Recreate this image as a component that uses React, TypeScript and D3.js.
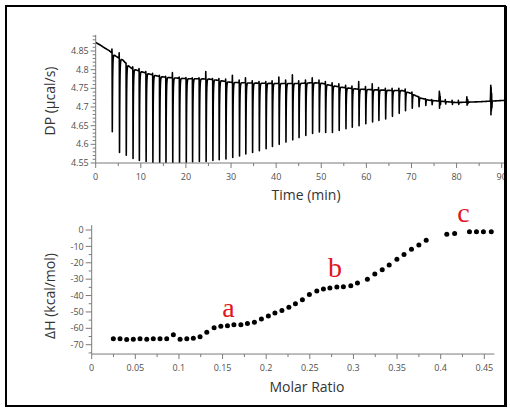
import React from 'react';
import * as d3 from 'd3';

// ---------- Top panel (raw thermogram) ----------
const timeTicks = [0, 10, 20, 30, 40, 50, 60, 70, 80, 90];
const dpTicks = [4.55, 4.6, 4.65, 4.7, 4.75, 4.8, 4.85];
const dpTickLabels = ['4.55', '4.6', '4.65', '4.7', '4.75', '4.8', '4.85'];

const baselineTime = [0, 1, 2, 3, 4, 5, 6, 7, 8, 10, 12, 14, 16, 20, 25, 28, 30, 35, 40, 45, 48, 50, 52, 55, 58, 62, 66, 68, 70, 72, 74, 76, 80, 85, 91];
const baselineDP = [4.873, 4.866, 4.858, 4.851, 4.84, 4.832, 4.826, 4.813, 4.803, 4.795, 4.788, 4.782, 4.779, 4.776, 4.775, 4.77, 4.766, 4.764, 4.763, 4.763, 4.765, 4.764, 4.758, 4.752, 4.748, 4.746, 4.744, 4.744, 4.736, 4.724, 4.718, 4.716, 4.712, 4.714, 4.718];

const injTime = [3.6, 5.2, 6.7, 8.2, 9.6, 11.1, 12.6, 14.1, 15.5, 17.0, 18.5, 20.0, 21.4, 22.9, 24.4, 25.9, 27.3, 28.8, 30.3, 31.8, 33.2, 34.7, 36.2, 37.7, 39.1, 40.6, 42.1, 43.6, 45.0, 46.5, 48.0, 49.5, 50.9, 52.4, 53.9, 55.4, 56.8, 58.3, 59.8, 61.3, 62.7, 64.2, 65.7, 67.2, 68.6, 70.1, 71.6, 73.1, 74.5, 77.5, 79.0, 80.4];
const injMin = [4.634, 4.578, 4.571, 4.562, 4.557, 4.554, 4.551, 4.545, 4.545, 4.545, 4.545, 4.552, 4.553, 4.554, 4.554, 4.557, 4.559, 4.561, 4.565, 4.569, 4.574, 4.578, 4.583, 4.588, 4.594, 4.6, 4.606, 4.612, 4.618, 4.624, 4.629, 4.633, 4.632, 4.632, 4.637, 4.642, 4.646, 4.65, 4.655, 4.66, 4.664, 4.668, 4.675, 4.683, 4.69, 4.697, 4.701, 4.704, 4.706, 4.708, 4.707, 4.707];
const injMax = [4.855, 4.845, 4.818, 4.808, 4.803, 4.795, 4.79, 4.785, 4.782, 4.792, 4.78, 4.779, 4.778, 4.778, 4.795, 4.776, 4.776, 4.775, 4.785, 4.772, 4.778, 4.77, 4.768, 4.768, 4.77, 4.78, 4.772, 4.786, 4.77, 4.772, 4.778, 4.772, 4.768, 4.765, 4.762, 4.758, 4.756, 4.768, 4.755, 4.762, 4.752, 4.75, 4.75, 4.75, 4.748, 4.74, 4.728, 4.722, 4.72, 4.72, 4.718, 4.718];

const burstTime = [76.2, 82.3, 87.6];
const burstHigh = [4.742, 4.727, 4.758];
const burstLow = [4.697, 4.705, 4.679];

// ---------- Bottom panel (integrated heats) ----------
const molarRatio = [0.0248, 0.0325, 0.0401, 0.0477, 0.0554, 0.0631, 0.0706, 0.0783, 0.086, 0.0936, 0.1013, 0.109, 0.1165, 0.1242, 0.1319, 0.1403, 0.148, 0.1556, 0.163, 0.171, 0.1785, 0.1865, 0.1945, 0.2025, 0.21, 0.218, 0.226, 0.2335, 0.2415, 0.2495, 0.258, 0.2656, 0.273, 0.281, 0.2885, 0.297, 0.3046, 0.316, 0.3245, 0.333, 0.341, 0.3498, 0.358, 0.3665, 0.375, 0.3834, 0.407, 0.416, 0.433, 0.441, 0.449, 0.458];
const deltaH = [-66.4, -66.4, -66.9, -66.7, -66.4, -66.7, -66.4, -66.4, -66.4, -64.0, -66.7, -66.4, -66.0, -65.2, -62.4, -59.7, -58.8, -58.4, -57.9, -57.9, -57.1, -56.3, -54.3, -52.5, -50.6, -49.2, -47.2, -45.0, -42.6, -39.3, -37.3, -36.0, -35.4, -34.8, -34.7, -34.0, -32.4, -30.0, -26.9, -24.3, -21.3, -17.8, -15.0, -11.7, -9.1, -6.3, -2.6, -2.2, -1.0, -1.0, -1.0, -1.0];
const ratioTicks = [0, 0.05, 0.1, 0.15, 0.2, 0.25, 0.3, 0.35, 0.4, 0.45];
const ratioTickLabels = ['0', '0.05', '0.1', '0.15', '0.2', '0.25', '0.3', '0.35', '0.4', '0.45'];
const dhTicks = [0, -10, -20, -30, -40, -50, -60, -70];

const noteText = ['a', 'b', 'c'];
const noteRatio = [0.1568, 0.2789, 0.4262];
const noteDH = [-52.8, -28.7, 4.6];

// ---------- Layout ----------
const W = 510;
const H = 408;
const FONT = "'Open Sans', 'Noto Sans', sans-serif";
const AXIS = '#7a7a7a';
const LABEL = '#505050';

const xT = d3.scaleLinear().domain([0, 90]).range([95.7, 501.7]);
const yT = d3.scaleLinear().domain([4.55, 4.85]).range([163, 51]);
const xB = d3.scaleLinear().domain([0, 0.45]).range([91.7, 484.3]);
const yB = d3.scaleLinear().domain([0, -70]).range([230, 344.7]);

function buildTrace(): [number, number][] {
  const base = d3.scaleLinear().domain(baselineTime).range(baselineDP).clamp(true);
  const events = [
    ...injTime.map((t, i) => ({ t, kind: 'inj', i })),
    ...burstTime.map((t, i) => ({ t, kind: 'burst', i })),
  ].sort((a, b) => a.t - b.t);
  const pts: [number, number][] = [];
  let t = 0;
  const step = 0.1;
  for (const e of events) {
    while (t < e.t - 0.05) {
      pts.push([t, base(t)]);
      t += step;
    }
    const t0 = e.t;
    if (e.kind === 'inj') {
      const lo = injMin[e.i];
      const hi = injMax[e.i];
      pts.push([t0 - 0.03, base(t0 - 0.03)]);
      pts.push([t0, hi]);
      pts.push([t0 + 0.03, base(t0)]);
      pts.push([t0 + 0.08, lo]);
      const depth = base(t0) - lo;
      for (let k = 1; k <= 14; k++) {
        const tt = t0 + 0.08 + k * 0.04;
        pts.push([tt, base(tt) - depth * Math.exp(-(k * 0.04) / 0.07)]);
      }
      t = t0 + 0.08 + 14 * 0.04 + step;
    } else {
      const hi = burstHigh[e.i];
      const lo = burstLow[e.i];
      const b = base(t0);
      pts.push([t0 - 0.12, b], [t0 - 0.06, (hi + b) / 2], [t0 - 0.02, hi], [t0 + 0.02, lo], [t0 + 0.06, hi - 0.006], [t0 + 0.1, lo + 0.01], [t0 + 0.16, (hi + b) / 2], [t0 + 0.22, (lo + b) / 2], [t0 + 0.3, b]);
      t = t0 + 0.4;
    }
  }
  while (t <= 90.6) {
    pts.push([t, base(t)]);
    t += step;
  }
  return pts;
}

export default function App() {
  const trace = buildTrace();
  const line = d3
    .line<[number, number]>()
    .x((d) => xT(d[0]))
    .y((d) => yT(d[1]));

  const topMinorX = d3.range(5, 91, 10);
  const topMinorY = d3.range(4.56, 4.89, 0.01).filter((v) => Math.abs(Math.round(v * 20) - v * 20) > 0.01);
  const botMinorX = d3.range(0.025, 0.46, 0.05);
  const botMinorY = d3.range(-75, 5, 5).filter((v) => v % 10 !== 0);

  const yTopEnd = yT(4.893);
  const xTopEnd = xT(90.6);
  const yBotTop = yB(3);
  const yBotAxis = yB(-75.7);
  const xBotEnd = xB(0.4615);

  return (
    <svg width={W} height={H} style={{ position: 'absolute', left: 0, top: 0, background: '#fff' }} fontFamily={FONT}>
      <rect x={0} y={0} width={W} height={H} fill="#fff" />
      <defs>
        <clipPath id="topclip">
          <rect x={xT(0)} y={20} width={xTopEnd - xT(0) + 2} height={yT(4.55) - 20} />
        </clipPath>
      </defs>

      {/* ---------------- Top panel ---------------- */}
      <path d={line(trace) || ''} fill="none" stroke="#000" strokeWidth={1.6} strokeLinejoin="round" clipPath="url(#topclip)" />

      <line x1={xT(0)} x2={xT(0)} y1={yTopEnd} y2={yT(4.55)} stroke={AXIS} strokeWidth={1} />
      <line x1={xT(0)} x2={xTopEnd} y1={yT(4.55)} y2={yT(4.55)} stroke={AXIS} strokeWidth={1} />
      {dpTicks.map((v, i) => (
        <g key={'dy' + i}>
          <line x1={xT(0) - 5} x2={xT(0)} y1={yT(v)} y2={yT(v)} stroke={AXIS} />
          <text x={xT(0) - 7} y={yT(v)} dy="0.35em" textAnchor="end" fontSize={9} fill={LABEL}>
            {dpTickLabels[i]}
          </text>
        </g>
      ))}
      {topMinorY.map((v, i) => (
        <line key={'dmy' + i} x1={xT(0) - 3} x2={xT(0)} y1={yT(v)} y2={yT(v)} stroke={AXIS} />
      ))}
      {timeTicks.map((v, i) => (
        <g key={'tx' + i}>
          <line x1={xT(v)} x2={xT(v)} y1={yT(4.55)} y2={yT(4.55) + 5} stroke={AXIS} />
          <text x={xT(v)} y={yT(4.55) + 17} textAnchor="middle" fontSize={9} fill={LABEL}>
            {v}
          </text>
        </g>
      ))}
      {topMinorX.map((v, i) => (
        <line key={'tmx' + i} x1={xT(v)} x2={xT(v)} y1={yT(4.55)} y2={yT(4.55) + 3} stroke={AXIS} />
      ))}
      <text x={306} y={200} textAnchor="middle" fontSize={14} fill="#333">
        Time (min)
      </text>
      <text transform={`translate(55, 101) rotate(-90)`} textAnchor="middle" fontSize={14} fill="#333">
        DP (µcal/s)
      </text>

      {/* ---------------- Bottom panel ---------------- */}
      <line x1={xB(0)} x2={xB(0)} y1={yBotTop} y2={yBotAxis} stroke={AXIS} />
      <line x1={xB(0)} x2={xBotEnd} y1={yBotAxis} y2={yBotAxis} stroke={AXIS} />
      {dhTicks.map((v, i) => (
        <g key={'hy' + i}>
          <line x1={xB(0) - 6} x2={xB(0)} y1={yB(v)} y2={yB(v)} stroke={AXIS} />
          <text x={xB(0) - 8} y={yB(v)} dy="0.35em" textAnchor="end" fontSize={9} fill={LABEL}>
            {v}
          </text>
        </g>
      ))}
      {botMinorY.map((v, i) => (
        <line key={'hmy' + i} x1={xB(0) - 3} x2={xB(0)} y1={yB(v)} y2={yB(v)} stroke={AXIS} />
      ))}
      {ratioTicks.map((v, i) => (
        <g key={'rx' + i}>
          <line x1={xB(v)} x2={xB(v)} y1={yBotAxis} y2={yBotAxis + 5} stroke={AXIS} />
          <text x={xB(v)} y={yBotAxis + 17} textAnchor="middle" fontSize={9} fill={LABEL}>
            {ratioTickLabels[i]}
          </text>
        </g>
      ))}
      {botMinorX.map((v, i) => (
        <line key={'rmx' + i} x1={xB(v)} x2={xB(v)} y1={yBotAxis} y2={yBotAxis + 3} stroke={AXIS} />
      ))}
      {molarRatio.map((r, i) => (
        <circle key={'p' + i} cx={xB(r)} cy={yB(deltaH[i])} r={2.5} fill="#000" />
      ))}
      {noteText.map((s, i) => (
        <text key={'n' + i} x={xB(noteRatio[i])} y={yB(noteDH[i])} textAnchor="middle" fontSize={28} fontFamily="'Liberation Serif', 'DejaVu Serif', serif" fill="#e3141b">
          {s}
        </text>
      ))}
      <text x={307} y={392} textAnchor="middle" fontSize={14} fill="#333">
        Molar Ratio
      </text>
      <text transform={`translate(55, 296) rotate(-90)`} textAnchor="middle" fontSize={14} fill="#333">
        ΔH (kcal/mol)
      </text>

      {/* frame */}
      <rect x={6} y={6} width={499} height={400} fill="none" stroke="#000" strokeWidth={2} />
      <line x1={506} x2={506} y1={6} y2={407} stroke="#000" strokeWidth={2} />
    </svg>
  );
}
